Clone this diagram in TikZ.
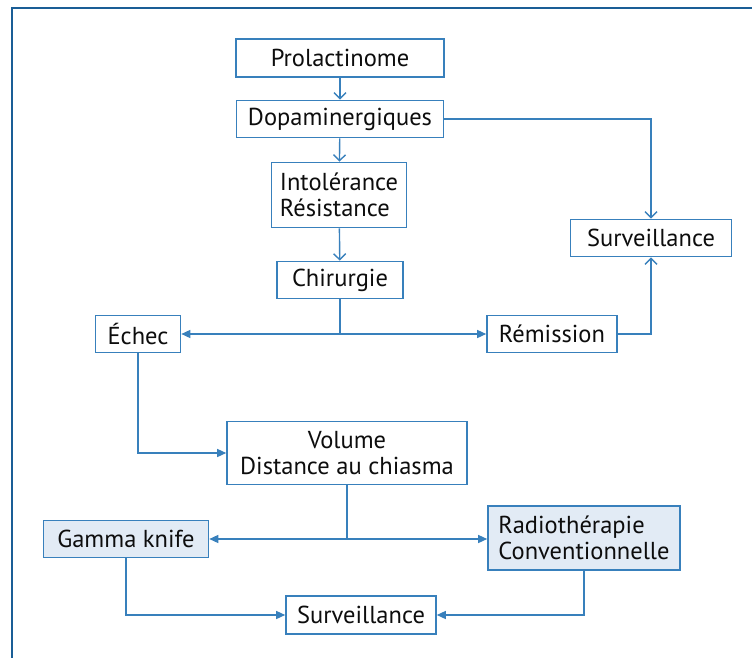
\documentclass[tikz,border=0pt]{standalone}
\usepackage{fontspec}
\setmainfont{PT Sans}
\usetikzlibrary{arrows.meta}
\definecolor{framebl}{HTML}{1A5E96}
\definecolor{boxbl}{HTML}{3880BC}
\definecolor{fillbl}{HTML}{E2EBF5}

\begin{document}
\begin{tikzpicture}[x=1pt, y=-1pt,
  every node/.style={font=\fontsize{24.5}{26.5}\selectfont, text=black!95},
  box/.style={draw=boxbl, line width=1.6pt, inner sep=0pt, align=center},
  shaded/.style={box, fill=fillbl},
  openarr/.style={draw=boxbl, line width=1.4pt, -{Straight Barb[length=6pt,width=12pt]}},
  fullarr/.style={draw=boxbl, line width=1.4pt, -{Triangle[length=9pt,width=8pt]}},
  plain/.style={draw=boxbl, line width=1.4pt}]
  \useasboundingbox (0,0) rectangle (752,658);

  % frame
  \draw[framebl, line width=2.5pt] (12,660) -- (12,8) -- (754,8);

  % upper part
  \node[box, minimum width=208, minimum height=38] (prol) at (340,58) {Prolactinome};
  \node[box, minimum width=207, minimum height=37] (dopa) at (340,119) {Dopaminergiques};
  \node[box, align=left, minimum width=135, minimum height=65] (into) at (339,195) {Intolérance\\Résistance};
  \node[box, minimum width=126, minimum height=37] (chir) at (340,280) {Chirurgie};
  \node[box, minimum width=161, minimum height=37] (survA) at (651,238) {Surveillance};
  \node[box, minimum width=85, minimum height=37] (echec) at (138,334) {Échec};
  \node[box, minimum width=130, minimum height=37] (remi) at (552,334) {Rémission};

  \draw[openarr] (prol) -- (dopa);
  \draw[openarr] (dopa) -- (into);
  \draw[openarr] (into) -- (chir);
  \draw[openarr] (dopa.east) -| (survA.north);
  \draw[openarr] (remi.east) -| (survA.south);

  \coordinate (splitA) at (chir.south |- echec.east);
  \draw[plain] (chir) -- (splitA);
  \draw[fullarr] (splitA) -- (echec);
  \draw[fullarr] (splitA) -- (remi);

  % lower part
  \node[box, minimum width=240, minimum height=63] (vol) at (347,453) {Volume\\Distance au chiasma};
  \node[shaded, minimum width=165, minimum height=37] (gamma) at (126,539) {Gamma knife};
  \node[shaded, align=left, minimum width=192, minimum height=64] (radio) at (584,538) {Radiothérapie\\Conventionnelle};
  \node[box, minimum width=150, minimum height=38] (survB) at (361,615) {Surveillance};

  \draw[fullarr] (echec.south) |- (vol.west);

  \coordinate (splitB) at (vol.south |- gamma.east);
  \draw[plain] (vol) -- (splitB);
  \draw[fullarr] (splitB) -- (gamma);
  \draw[fullarr] (splitB) -- (radio.west |- splitB);

  \draw[fullarr] (gamma.south) |- (survB.west);
  \draw[fullarr] (radio.south) |- (survB.east);
\end{tikzpicture}
\end{document}
